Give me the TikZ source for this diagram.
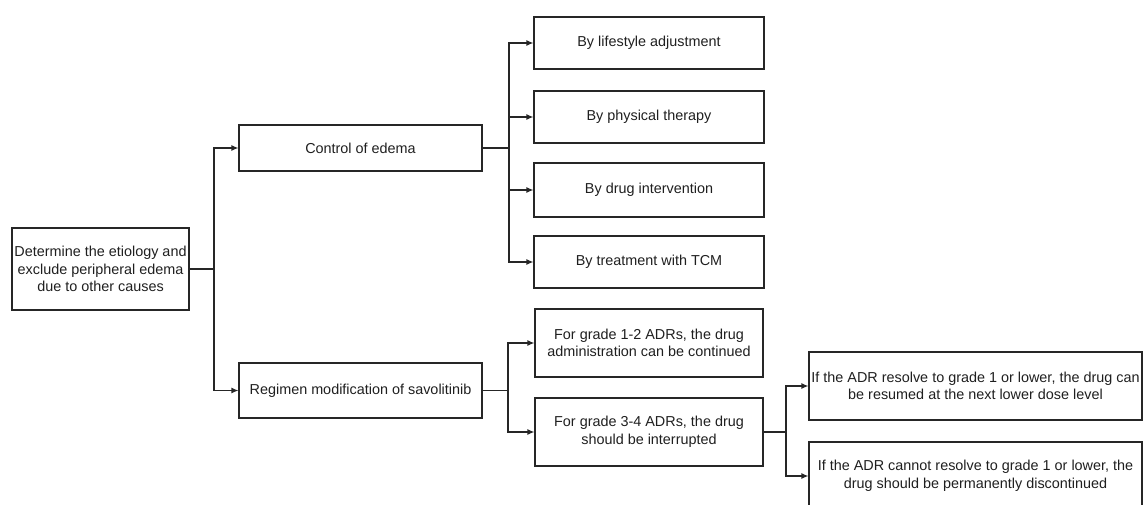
\documentclass[tikz,border=0pt]{standalone}
\usepackage{fontspec}
\setmainfont{Liberation Sans}
\usetikzlibrary{arrows.meta}
\begin{document}
\begin{tikzpicture}[x=1pt,y=-1pt,
  box/.style={draw=black!85,line width=1.2pt,inner sep=0pt,align=center,
    font=\fontsize{14.4}{17.5}\selectfont,text=black!88},
  conn/.style={draw=black!85,line width=1.2pt},
  arr/.style={conn,-{Latex[length=7pt,width=6pt]}}]
\useasboundingbox (0,0) rectangle (1143,505);
\clip (0,0) rectangle (1143,505);
\node[box,minimum width=177pt,minimum height=82pt] (root) at (100.5,269) {Determine the etiology and\\exclude peripheral edema\\due to other causes};
\node[box,minimum width=243pt,minimum height=46pt] (ctrl) at (360.5,148) {Control of edema};
\node[box,minimum width=243pt,minimum height=55pt] (reg) at (360.5,390.5) {Regimen modification of savolitinib};
\node[box,minimum width=230pt,minimum height=52pt] (b1) at (649,43) {By lifestyle adjustment};
\node[box,minimum width=230pt,minimum height=52pt] (b2) at (649,117) {By physical therapy};
\node[box,minimum width=230pt,minimum height=54pt] (b3) at (649,190) {By drug intervention};
\node[box,minimum width=230pt,minimum height=52pt] (b4) at (649,262) {By treatment with TCM};
\node[box,minimum width=228pt,minimum height=68pt] (ga) at (649,343) {For grade 1-2 ADRs, the drug\\administration can be continued};
\node[box,minimum width=228pt,minimum height=68pt] (gb) at (649,432) {For grade 3-4 ADRs, the drug\\should be interrupted};
\node[box,minimum width=333pt,minimum height=68pt] (gc) at (975.5,386) {If the ADR resolve to grade 1 or lower, the drug can\\be resumed at the next lower dose level};
\node[box,minimum width=333pt,minimum height=68pt] (gd) at (975.5,476) {If the ADR cannot resolve to grade 1 or lower, the\\drug should be permanently discontinued};
\coordinate (j1) at (214,269);
\coordinate (j2) at (509,148);
\coordinate (j3) at (508,390.5);
\coordinate (j4) at (786,432);
\draw[conn] (root.east) -- (j1);
\draw[arr] (j1) |- (ctrl.west);
\draw[arr] (j1) |- (reg.west);
\draw[conn] (ctrl.east) -- (j2);
\draw[arr] (j2) |- (b1.west);
\draw[arr] (j2) |- (b2.west);
\draw[arr] (j2) |- (b3.west);
\draw[arr] (j2) |- (b4.west);
\draw[conn] (reg.east) -- (j3);
\draw[arr] (j3) |- (ga.west);
\draw[arr] (j3) |- (gb.west);
\draw[conn] (gb.east) -- (j4);
\draw[arr] (j4) |- (gc.west);
\draw[arr] (j4) |- (gd.west);
\end{tikzpicture}
\end{document}
